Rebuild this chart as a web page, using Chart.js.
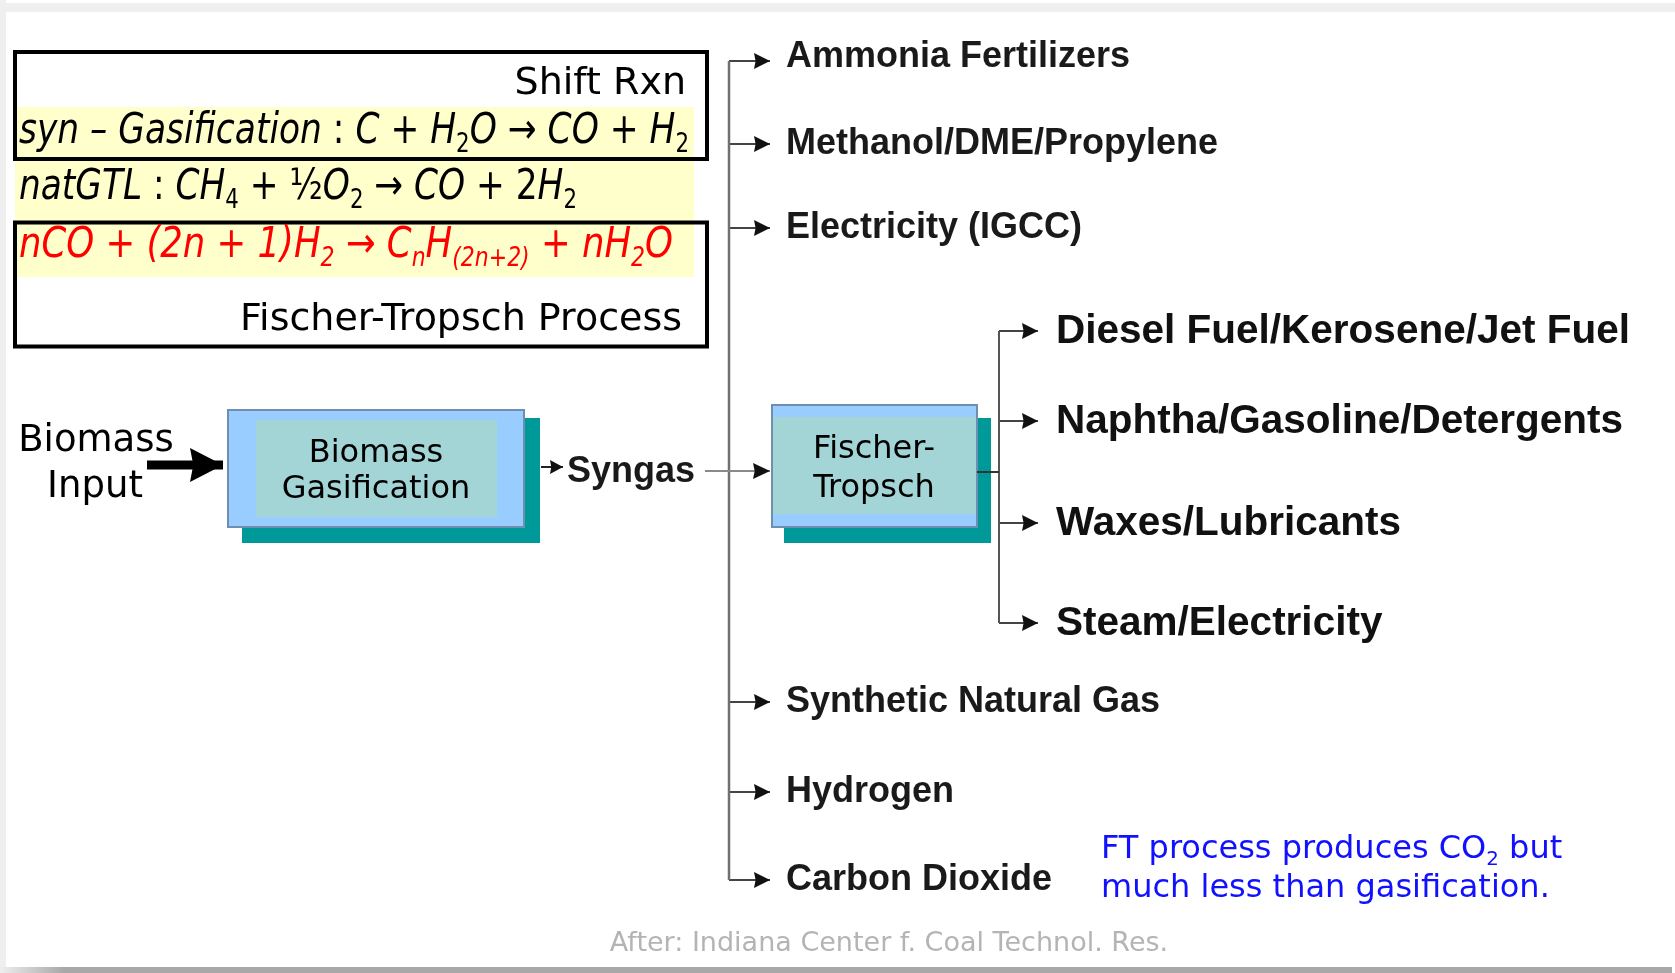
<!DOCTYPE html>
<html>
<head>
<meta charset="utf-8">
<script src="https://cdn.jsdelivr.net/npm/chart.js@4"></script>
<style>
  html, body { margin: 0; padding: 0; background: #fff; }
  #wrap { width: 1675px; height: 973px; }
</style>
</head>
<body>
<div id="wrap"><canvas id="flow" width="1675" height="973"></canvas></div>
<script>
// labels of the flow sheet
var syngasProducts = ['Ammonia Fertilizers', 'Methanol/DME/Propylene', 'Electricity (IGCC)', 'Synthetic Natural Gas', 'Hydrogen', 'Carbon Dioxide'];
var syngasRows = [61, 144, 228, 702, 792, 880];
var ftProducts = ['Diesel Fuel/Kerosene/Jet Fuel', 'Naphtha/Gasoline/Detergents', 'Waxes/Lubricants', 'Steam/Electricity'];
var ftRows = [331, 421, 523, 623];
var inputLabel = ['Biomass', 'Input'];
var gasifierLabel = ['Biomass', 'Gasification'];
var ftLabel = ['Fischer-', 'Tropsch'];
var syngasLabel = 'Syngas';

// equations: [text, flags]  i = italic, s = subscript
var eqShift = [['syn \u2013 Gasification', 'i'], [' : ', ''], ['C', 'i'], [' + ', ''], ['H', 'i'], ['2', 's'], ['O', 'i'], [' \u2192 ', ''], ['CO', 'i'], [' + ', ''], ['H', 'i'], ['2', 's']];
var eqNatGtl = [['natGTL', 'i'], [' : ', ''], ['CH', 'i'], ['4', 's'], [' + \u00bd', ''], ['O', 'i'], ['2', 's'], [' \u2192 ', ''], ['CO', 'i'], [' + 2', ''], ['H', 'i'], ['2', 's']];
var eqFT = [['nCO + (2n + 1)H', 'i'], ['2', 'is'], [' \u2192 ', ''], ['C', 'i'], ['n', 'is'], ['H', 'i'], ['(2n+2)', 'is'], [' + nH', 'i'], ['2', 'is'], ['O', 'i']];
var noteLines = [[['FT process produces CO', ''], ['2', 's'], [' but', '']], [['much less than gasification.', '']]];
var sourceText = 'After: Indiana Center f. Coal Technol. Res.';

var FONT = '"DejaVu Sans", Verdana, sans-serif';
var BOLD = '"Liberation Sans", Arial, sans-serif';

var datasets = [];
function connector(points, color, width, arrow) {
    datasets.push({
        data: points,
        showLine: true,
        borderColor: color,
        borderWidth: width,
        borderCapStyle: 'butt',
        pointRadius: 0,
        pointHoverRadius: 0,
        fill: false,
        tension: 0,
        clip: false,
        arrow: arrow || null
    });
}

// feed -> gasifier (fat arrow)
connector([{x: 147, y: 465}, {x: 223, y: 465}], '#000', 9, {len: 33, half: 17, color: '#000'});
// gasifier -> syngas
connector([{x: 541, y: 467}, {x: 563, y: 467}], '#222', 2, {len: 13, half: 7, color: '#111'});
// syngas -> FT
connector([{x: 705, y: 471}, {x: 770, y: 471}], '#8a8a8a', 2, {len: 17, half: 8, color: '#111'});
// main trunk + branches
connector([{x: 729, y: syngasRows[0]}, {x: 729, y: syngasRows[syngasRows.length - 1]}], '#707070', 2.5);
syngasRows.forEach(function (r) {
    connector([{x: 729, y: r}, {x: 770, y: r}], '#444', 2, {len: 16, half: 8, color: '#111'});
});
// FT -> branches
connector([{x: 977, y: 472}, {x: 999, y: 472}], '#333', 2);
connector([{x: 999, y: ftRows[0]}, {x: 999, y: ftRows[ftRows.length - 1]}], '#555', 2);
ftRows.forEach(function (r) {
    connector([{x: 999, y: r}, {x: 1038, y: r}], '#444', 2, {len: 16, half: 8, color: '#111'});
});

function P(chart, x, y) {
    return [chart.scales.x.getPixelForValue(x), chart.scales.y.getPixelForValue(y)];
}

function rect(chart, ctx, x0, y0, x1, y1, fill, stroke, lw) {
    var a = P(chart, x0, y0), b = P(chart, x1, y1);
    if (fill) { ctx.fillStyle = fill; ctx.fillRect(a[0], a[1], b[0] - a[0], b[1] - a[1]); }
    if (stroke) { ctx.strokeStyle = stroke; ctx.lineWidth = lw; ctx.strokeRect(a[0], a[1], b[0] - a[0], b[1] - a[1]); }
}

function drawRich(chart, ctx, segs, x, y, size, color, fitW, align) {
    var parts = segs.map(function (s) {
        var it = s[1].indexOf('i') >= 0, sub = s[1].indexOf('s') >= 0;
        var fs = sub ? size * 0.62 : size;
        var font = (it ? 'italic ' : '') + fs + 'px ' + FONT;
        ctx.font = font;
        return {t: s[0], font: font, w: ctx.measureText(s[0]).width, dy: sub ? size * 0.22 : 0};
    });
    var total = 0;
    parts.forEach(function (p) { total += p.w; });
    var k = fitW ? fitW / total : 1;
    var p0 = P(chart, x, y);
    var x0 = align === 'right' ? p0[0] - total * k : (align === 'center' ? p0[0] - total * k / 2 : p0[0]);
    ctx.save();
    ctx.translate(x0, p0[1]);
    ctx.scale(k, 1);
    ctx.fillStyle = color;
    ctx.textAlign = 'left';
    ctx.textBaseline = 'alphabetic';
    var cx = 0;
    parts.forEach(function (p) {
        ctx.font = p.font;
        ctx.fillText(p.t, cx, p.dy);
        cx += p.w;
    });
    ctx.restore();
}

function text(chart, ctx, t, x, y, font, color, align) {
    var p = P(chart, x, y);
    ctx.font = font;
    ctx.fillStyle = color;
    ctx.textAlign = align || 'left';
    ctx.textBaseline = 'alphabetic';
    ctx.fillText(t, p[0], p[1]);
}

var diagram = {
    id: 'diagram',
    beforeDatasetsDraw: function (chart) {
        var ctx = chart.ctx, W = chart.width, H = chart.height;
        ctx.save();
        // slide frame
        ctx.fillStyle = '#efefef';
        ctx.fillRect(0, 3, W, 9);
        ctx.fillRect(0, 0, 6, H);
        var g = ctx.createLinearGradient(0, 0, 64, 0);
        g.addColorStop(0, '#eeeeee');
        g.addColorStop(1, '#a8a8a8');
        ctx.fillStyle = g;
        ctx.fillRect(0, H - 6, 64, 6);
        ctx.fillStyle = '#a8a8a8';
        ctx.fillRect(64, H - 6, W - 64 - 3, 6);

        // equations panel
        rect(chart, ctx, 15, 107, 694, 277, '#ffffcc');
        rect(chart, ctx, 15, 52, 707, 159, null, '#000', 4);
        rect(chart, ctx, 15, 222.5, 707, 346.5, null, '#000', 4);

        // gasifier block
        rect(chart, ctx, 242, 418, 540, 543, '#009999');
        rect(chart, ctx, 228, 410, 524, 527, '#99ccff', '#6f8fb0', 2);
        rect(chart, ctx, 256, 420, 497, 517, '#a3d5d6');

        // FT block
        rect(chart, ctx, 784, 418, 991, 543, '#009999');
        rect(chart, ctx, 772, 405, 977, 527, '#99ccff', '#6f8fb0', 2);
        rect(chart, ctx, 773, 417, 976, 514, '#a3d5d6');
        ctx.restore();
    },
    afterDatasetsDraw: function (chart) {
        var ctx = chart.ctx;
        ctx.save();
        // arrow heads on the connector ends
        chart.data.datasets.forEach(function (ds, i) {
            if (!ds.arrow) return;
            var pts = chart.getDatasetMeta(i).data;
            var a = pts[pts.length - 2], b = pts[pts.length - 1];
            var ang = Math.atan2(b.y - a.y, b.x - a.x);
            ctx.save();
            ctx.translate(b.x, b.y);
            ctx.rotate(ang);
            ctx.fillStyle = ds.arrow.color;
            ctx.beginPath();
            ctx.moveTo(0, 0);
            ctx.lineTo(-ds.arrow.len, -ds.arrow.half);
            ctx.lineTo(-ds.arrow.len * 0.9, 0);
            ctx.lineTo(-ds.arrow.len, ds.arrow.half);
            ctx.closePath();
            ctx.fill();
            ctx.restore();
        });

        // equations
        text(chart, ctx, 'Shift Rxn', 686, 94, '38px ' + FONT, '#000', 'right');
        drawRich(chart, ctx, eqShift, 19, 143, 42, '#000', 670);
        drawRich(chart, ctx, eqNatGtl, 19, 199, 42, '#000', 558);
        drawRich(chart, ctx, eqFT, 19, 257, 42, '#ff0000', 654);
        text(chart, ctx, 'Fischer-Tropsch Process', 682, 330, '38px ' + FONT, '#000', 'right');

        // blocks
        text(chart, ctx, inputLabel[0], 96, 451, '37px ' + FONT, '#000', 'center');
        text(chart, ctx, inputLabel[1], 95, 497, '37px ' + FONT, '#000', 'center');
        text(chart, ctx, gasifierLabel[0], 376, 462, '32px ' + FONT, '#000', 'center');
        text(chart, ctx, gasifierLabel[1], 376, 498, '32px ' + FONT, '#000', 'center');
        text(chart, ctx, ftLabel[0], 874, 458, '32px ' + FONT, '#000', 'center');
        text(chart, ctx, ftLabel[1], 874, 497, '32px ' + FONT, '#000', 'center');
        text(chart, ctx, syngasLabel, 567, 482, 'bold 36px ' + BOLD, '#1a1a1a');

        // products
        syngasProducts.forEach(function (name, i) {
            var dy = i === 0 ? 6 : 10;
            text(chart, ctx, name, 786, syngasRows[i] + dy, 'bold 36px ' + BOLD, '#1a1a1a');
        });
        ftProducts.forEach(function (name, i) {
            text(chart, ctx, name, 1056, ftRows[i] + 12, 'bold 40.5px ' + BOLD, '#111');
        });

        // note + source
        drawRich(chart, ctx, noteLines[0], 1101, 858, 32, '#1111ff');
        drawRich(chart, ctx, noteLines[1], 1101, 897, 32, '#1111ff');
        text(chart, ctx, sourceText, 889, 951, '27px ' + FONT, '#b4b4b4', 'center');
        ctx.restore();
    }
};

new Chart(document.getElementById('flow'), {
    type: 'scatter',
    data: { datasets: datasets },
    options: {
        responsive: false,
        animation: false,
        devicePixelRatio: 1,
        layout: { padding: 0 },
        events: [],
        scales: {
            x: { type: 'linear', min: 0, max: 1675, display: false },
            y: { type: 'linear', min: 0, max: 973, reverse: true, display: false }
        },
        plugins: {
            legend: { display: false },
            tooltip: { enabled: false }
        }
    },
    plugins: [diagram]
});
</script>
</body>
</html>
